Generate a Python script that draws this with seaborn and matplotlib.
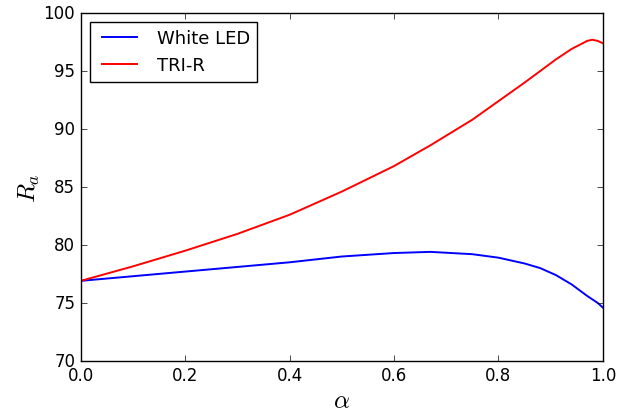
import pandas as pd
import matplotlib
matplotlib.use('Agg')
import matplotlib.pyplot as plt
import seaborn as sns

plt.style.use('classic')

alpha = [0.0, 0.1, 0.2, 0.3, 0.4, 0.5, 0.6, 0.67, 0.75, 0.8, 0.85, 0.88, 0.91, 0.94, 0.97, 0.98, 0.99, 1.0]
white_led = [76.9, 77.3, 77.7, 78.1, 78.5, 79.0, 79.3, 79.4, 79.2, 78.9, 78.4, 78.0, 77.4, 76.6, 75.6, 75.3, 75.0, 74.6]
tri_r = [76.9, 78.15, 79.5, 80.95, 82.6, 84.6, 86.8, 88.6, 90.8, 92.4, 94.0, 95.0, 96.0, 96.9, 97.6, 97.7, 97.6, 97.4]

df = pd.concat([
    pd.DataFrame({'alpha': alpha, 'Ra': white_led, 'source': 'White LED'}),
    pd.DataFrame({'alpha': alpha, 'Ra': tri_r, 'source': 'TRI-R'}),
])

fig = plt.figure(figsize=(6.26, 4.14), dpi=100, facecolor='white')
ax = fig.add_axes([0.129, 0.126, 0.834, 0.840])
sns.lineplot(data=df, x='alpha', y='Ra', hue='source', sort=False,
             palette={'White LED': 'blue', 'TRI-R': 'red'}, linewidth=1.4, ax=ax)

ax.set_xlim(0, 1)
ax.set_ylim(70, 100)
ax.set_xlabel(r'$\alpha$', fontsize=18, labelpad=3)
ax.set_ylabel(r'$R_a$', fontsize=18, labelpad=1)
ax.tick_params(labelsize=12)
ax.legend(loc='upper left', fontsize=13, handlelength=2.5)
fig.savefig('out.png', dpi=100, facecolor='white')
